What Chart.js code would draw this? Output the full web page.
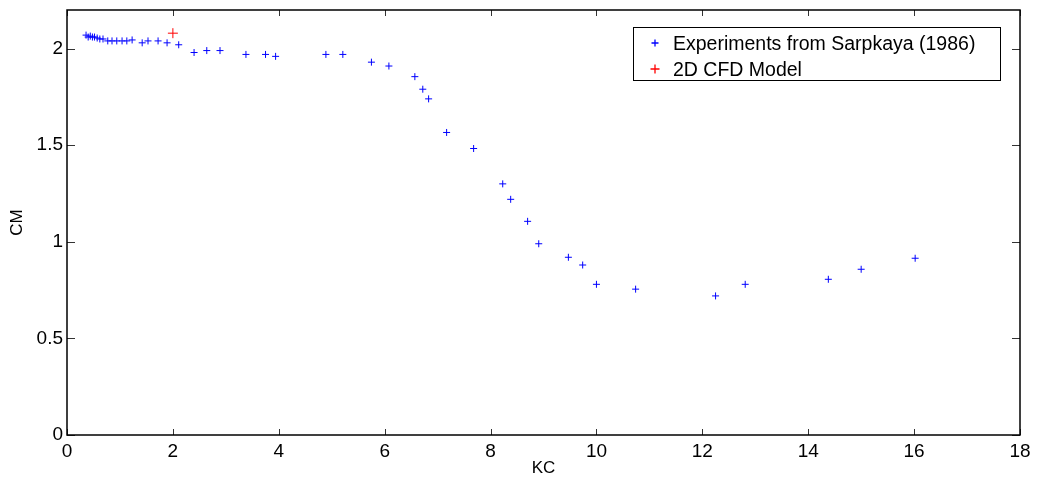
<!DOCTYPE html>
<html>
<head>
<meta charset="utf-8">
<script src="https://cdn.jsdelivr.net/npm/chart.js@4"></script>
<style>
  html, body { margin: 0; padding: 0; background: #fff; }
  #wrap { width: 1039px; height: 480px; }
</style>
</head>
<body>
<div id="wrap"><canvas id="cm"></canvas></div>
<script>
// Experiments from Sarpkaya (1986)
const expKC = [0.36, 0.40, 0.44, 0.48, 0.52, 0.57, 0.62, 0.68, 0.77, 0.85, 0.94, 1.04, 1.13, 1.23,
    1.42, 1.53, 1.72, 1.89, 2.11, 2.40, 2.64, 2.89, 3.38, 3.75, 3.94, 4.89, 5.21, 5.75, 6.08,
    6.57, 6.72, 6.83, 7.17, 7.68, 8.23, 8.38, 8.70, 8.91, 9.47, 9.74, 10.0, 10.74, 12.25, 12.81,
    14.38, 15.0, 16.02];
const expCM = [2.07, 2.06, 2.065, 2.06, 2.06, 2.055, 2.05, 2.05, 2.04, 2.04, 2.04, 2.04, 2.04, 2.045,
    2.03, 2.04, 2.04, 2.03, 2.02, 1.98, 1.99, 1.99, 1.97, 1.97, 1.96, 1.97, 1.97, 1.93, 1.91,
    1.855, 1.79, 1.74, 1.566, 1.483, 1.30, 1.22, 1.106, 0.99, 0.92, 0.88, 0.78, 0.755, 0.72, 0.78,
    0.806, 0.858, 0.915];

// 2D CFD model
const cfdKC = [2.0];
const cfdCM = [2.08];

const xTicks = [0, 2, 4, 6, 8, 10, 12, 14, 16, 18];
const yTicks = [0, 0.5, 1, 1.5, 2];

const seriesColors = ['#0000ff', '#ff0000'];

const FONT = 'Liberation Sans, Arial, sans-serif';

function toPoints(xs, ys) {
    return xs.map((x, i) => ({ x: x, y: ys[i] }));
}

// box around the axes with inward ticks, like matlab
const framePlugin = {
    id: 'frame',
    afterDraw(chart) {
        const ctx = chart.ctx;
        const a = chart.chartArea;
        const xs = chart.scales.x, ys = chart.scales.y;
        ctx.save();
        ctx.strokeStyle = '#333';
        ctx.lineWidth = 1;
        ctx.beginPath();
        xTicks.forEach(v => {
            const px = Math.round(xs.getPixelForValue(v)) + 0.5;
            ctx.moveTo(px, a.bottom); ctx.lineTo(px, a.bottom - 6);
            ctx.moveTo(px, a.top); ctx.lineTo(px, a.top + 6);
        });
        yTicks.forEach(v => {
            const py = Math.round(ys.getPixelForValue(v)) + 0.5;
            ctx.moveTo(a.left, py); ctx.lineTo(a.left + 8, py);
            ctx.moveTo(a.right, py); ctx.lineTo(a.right - 8, py);
        });
        ctx.stroke();
        ctx.strokeStyle = '#000';
        ctx.lineWidth = 1.5;
        ctx.strokeRect(a.left, a.top, a.right - a.left, a.bottom - a.top);
        ctx.restore();
    }
};

// legend box drawn inside the plot, top right
const legendPlugin = {
    id: 'boxLegend',
    afterDraw(chart) {
        const ctx = chart.ctx;
        const bx = 633, by = 27, bw = 367, bh = 53;
        ctx.save();
        ctx.fillStyle = '#fff';
        ctx.fillRect(bx, by, bw, bh);
        ctx.strokeStyle = '#000';
        ctx.lineWidth = 1;
        ctx.strokeRect(bx + 0.5, by + 0.5, bw, bh);
        ctx.font = '19.5px ' + FONT;
        ctx.textBaseline = 'middle';
        chart.data.datasets.forEach((ds, i) => {
            const cy = by + 16 + i * 26;
            const r = i === 0 ? 3.5 : 4.5;
            // small cross marker
            ctx.strokeStyle = seriesColors[i];
            ctx.lineWidth = 1.3;
            ctx.beginPath();
            ctx.moveTo(655 - r, cy); ctx.lineTo(655 + r, cy);
            ctx.moveTo(655, cy - r); ctx.lineTo(655, cy + r);
            ctx.stroke();
            ctx.fillStyle = '#000';
            ctx.fillText(ds.label, 673, cy + 2);
        });
        ctx.restore();
    }
};

new Chart(document.getElementById('cm'), {
    type: 'scatter',
    data: {
        datasets: [
            {
                label: 'Experiments from Sarpkaya (1986)',
                data: toPoints(expKC, expCM),
                borderColor: seriesColors[0],
                backgroundColor: seriesColors[0],
                pointStyle: 'cross',
                pointRadius: 3.5,
                pointBorderWidth: 1
            },
            {
                label: '2D CFD Model',
                data: toPoints(cfdKC, cfdCM),
                borderColor: seriesColors[1],
                backgroundColor: seriesColors[1],
                pointStyle: 'cross',
                pointRadius: 5,
                pointBorderWidth: 1
            }
        ]
    },
    options: {
        responsive: true,
        maintainAspectRatio: false,
        animation: false,
        layout: { padding: { top: 10, right: 19, left: 0, bottom: 0 } },
        plugins: {
            legend: { display: false },
            tooltip: { enabled: false }
        },
        scales: {
            x: {
                type: 'linear',
                min: 0,
                max: 18,
                afterBuildTicks: s => { s.ticks = xTicks.map(v => ({ value: v })); },
                afterFit: s => { s.height = 45; s.paddingLeft = 0; s.paddingRight = 0; },
                grid: { display: false, drawTicks: false },
                border: { display: false },
                ticks: {
                    color: '#000', padding: 5, maxRotation: 0, autoSkip: false,
                    font: { family: FONT, size: 19 },
                    callback: v => String(v)
                },
                title: {
                    display: true, text: 'KC', color: '#000', padding: { top: 0, bottom: 1 },
                    font: { family: FONT, size: 17 }
                }
            },
            y: {
                type: 'linear',
                min: 0,
                max: 2.2,
                afterBuildTicks: s => { s.ticks = yTicks.map(v => ({ value: v })); },
                afterFit: s => { s.width = 67; s.paddingTop = 0; s.paddingBottom = 0; },
                grid: { display: false, drawTicks: false },
                border: { display: false },
                ticks: {
                    color: '#000', padding: 4, autoSkip: false,
                    font: { family: FONT, size: 19 },
                    callback: v => String(v)
                },
                title: {
                    display: true, text: 'CM', color: '#000', padding: { top: 7, bottom: 0 },
                    font: { family: FONT, size: 17 }
                }
            }
        }
    },
    plugins: [framePlugin, legendPlugin]
});
</script>
</body>
</html>
